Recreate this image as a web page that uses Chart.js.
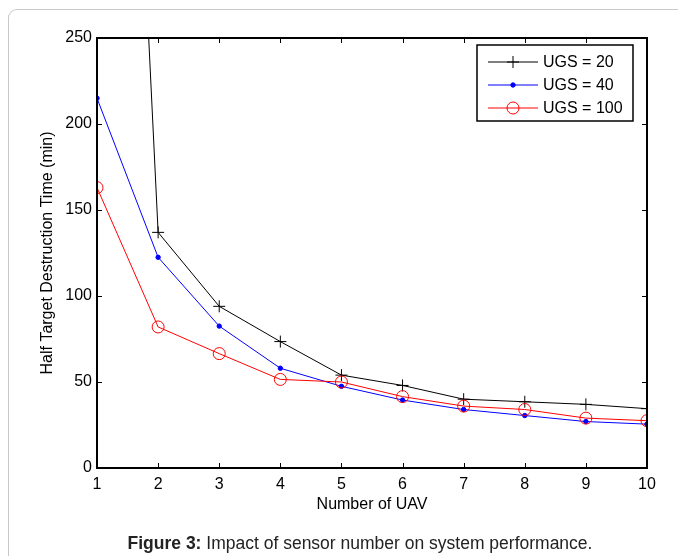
<!DOCTYPE html>
<html>
<head>
<meta charset="utf-8">
<script src="https://cdn.jsdelivr.net/npm/chart.js@4"></script>
<style>
  html, body { margin: 0; padding: 0; background: #fff; }
  #wrap { position: relative; width: 678px; height: 556px; overflow: hidden; }
  #frame { position: absolute; left: 8px; top: 9px; width: 720px; height: 600px;
           border-left: 1px solid #c8c8c8; border-top: 1px solid #c8c8c8; border-top-left-radius: 9px; }
  #chart { position: absolute; left: 0; top: 0; }
  #caption { position: absolute; left: 0; width: 720px; top: 533px; text-align: center;
             font-family: Arial, "Liberation Sans", sans-serif; font-size: 17.5px; color: #222; }
</style>
</head>
<body>
<div id="wrap">
  <div id="frame"></div>
  <canvas id="chart" width="678" height="556"></canvas>
  <div id="caption"><b>Figure 3:</b> Impact of sensor number on system performance.</div>
</div>
<script>
const uavCounts = [1, 2, 3, 4, 5, 6, 7, 8, 9, 10];
const ugs20 = [870, 137, 94, 73.5, 54, 48, 40, 38.5, 37, 34.5];
const ugs40 = [215, 122.5, 82.5, 58, 47.5, 39.5, 34, 30.5, 27, 25.5];
const ugs100 = [163, 82, 66.5, 51.5, 50, 41.5, 36, 34, 29, 27.5];
const seriesLabels = ['UGS = 20', 'UGS = 40', 'UGS = 100'];
const yTicks = [0, 50, 100, 150, 200, 250];

const font = 'Arial, "Liberation Sans", sans-serif';

function toPoints(values) {
    return uavCounts.map((x, i) => ({ x: x, y: values[i] }));
}

// MATLAB-like box with inward ticks on all four sides
const boxPlugin = {
    id: 'box',
    afterDatasetsDraw(chart) {
        const { ctx, chartArea: a, scales } = chart;
        const len = 5;
        ctx.save();
        ctx.strokeStyle = '#000';
        ctx.lineWidth = 1;
        ctx.beginPath();
        scales.x.ticks.forEach((t) => {
            const px = Math.round(scales.x.getPixelForValue(t.value)) + 0.5;
            ctx.moveTo(px, a.bottom); ctx.lineTo(px, a.bottom - len);
            ctx.moveTo(px, a.top); ctx.lineTo(px, a.top + len);
        });
        scales.y.ticks.forEach((t) => {
            const py = Math.round(scales.y.getPixelForValue(t.value)) + 0.5;
            ctx.moveTo(a.left, py); ctx.lineTo(a.left + len, py);
            ctx.moveTo(a.right, py); ctx.lineTo(a.right - len, py);
        });
        ctx.stroke();
        ctx.lineWidth = 2;
        ctx.strokeRect(a.left, a.top, a.right - a.left, a.bottom - a.top);
        ctx.restore();
    }
};

// legend drawn like MATLAB: line sample with the marker in the middle
const legendPlugin = {
    id: 'matlabLegend',
    afterDraw(chart) {
        const { ctx } = chart;
        const x0 = 477, y0 = 45, w = 156, h = 76;
        ctx.save();
        ctx.fillStyle = '#fff';
        ctx.fillRect(x0, y0, w, h);
        ctx.strokeStyle = '#000';
        ctx.lineWidth = 1.5;
        ctx.strokeRect(x0, y0, w, h);
        ctx.font = '16px ' + font;
        ctx.textBaseline = 'middle';
        chart.data.datasets.forEach((ds, i) => {
            const y = y0 + 17 + i * 23;
            ctx.strokeStyle = ds.borderColor;
            ctx.lineWidth = 1;
            ctx.beginPath();
            ctx.moveTo(488, y); ctx.lineTo(538, y);
            ctx.stroke();
            ctx.fillStyle = ds.backgroundColor;
            ctx.strokeStyle = ds.borderColor;
            Chart.helpers.drawPoint(ctx, {
                pointStyle: ds.pointStyle, radius: ds.pointRadius, rotation: 0,
                borderWidth: 1
            }, 513, y);
            ctx.fillStyle = '#000';
            ctx.fillText(ds.label, 543, y + 1);
        });
        ctx.restore();
    }
};

new Chart(document.getElementById('chart'), {
    type: 'line',
    data: {
        datasets: [
            {
                label: seriesLabels[0],
                data: toPoints(ugs20),
                borderColor: '#000000',
                backgroundColor: 'rgba(0,0,0,0)',
                borderWidth: 1,
                pointStyle: 'cross',
                pointRadius: 6,
                pointBorderWidth: 1,
                order: 3,
            },
            {
                label: seriesLabels[1],
                data: toPoints(ugs40),
                borderColor: '#0000ff',
                backgroundColor: '#0000ff',
                borderWidth: 1,
                pointStyle: 'circle',
                pointRadius: 2.2,
                pointBorderWidth: 1,
                order: 2,
            },
            {
                label: seriesLabels[2],
                data: toPoints(ugs100),
                borderColor: '#ff0000',
                backgroundColor: 'rgba(0,0,0,0)',
                borderWidth: 1,
                pointStyle: 'circle',
                pointRadius: 6,
                pointBorderWidth: 1,
                order: 1,
            },
        ],
    },
    options: {
        responsive: false,
        animation: false,
        events: [],
        layout: { padding: { left: 0, top: 38, right: 31, bottom: 38 } },
        plugins: { legend: { display: false }, tooltip: { enabled: false } },
        scales: {
            x: {
                type: 'linear',
                min: 1,
                max: 10,
                afterFit: (s) => { s.height = 50; },
                afterBuildTicks: (s) => { s.ticks = uavCounts.map((v) => ({ value: v })); },
                grid: { display: false, drawTicks: false },
                border: { display: false },
                ticks: { padding: 7, color: '#000', font: { family: font, size: 16 } },
                title: {
                    display: true, text: 'Number of UAV', color: '#000',
                    font: { family: font, size: 16 }, padding: { top: 0, bottom: 4 }
                },
            },
            y: {
                min: 0,
                max: 250,
                afterFit: (s) => { s.width = 97; },
                afterBuildTicks: (s) => { s.ticks = yTicks.map((v) => ({ value: v })); },
                grid: { display: false, drawTicks: false },
                border: { display: false },
                ticks: { padding: 5, color: '#000', font: { family: font, size: 16 } },
                title: {
                    display: true, text: 'Half Target Destruction Time (min)', color: '#000',
                    font: { family: font, size: 16 }, padding: { top: 38, bottom: 0 }
                },
            },
        },
    },
    plugins: [boxPlugin, legendPlugin],
});
</script>
</body>
</html>
